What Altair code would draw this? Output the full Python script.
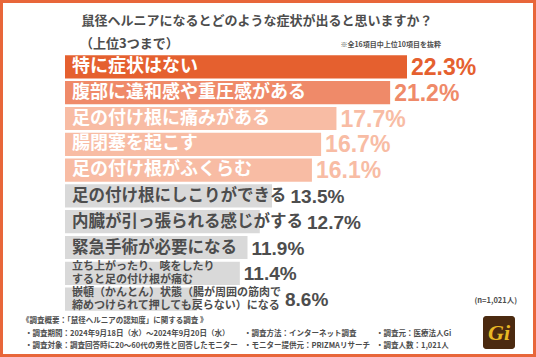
import altair as alt
import pandas as pd

# ---- data ----
categories = [
    "特に症状はない",
    "腹部に違和感や重圧感がある",
    "足の付け根に痛みがある",
    "腸閉塞を起こす",
    "足の付け根がふくらむ",
    "足の付け根にしこりができる",
    "内臓が引っ張られる感じがする",
    "緊急手術が必要になる",
    "立ち上がったり、咳をしたり\nすると足の付け根が痛む",
    "嵌頓（かんとん）状態（腸が周囲の筋肉で\n締めつけられて押しても戻らない）になる",
]
values = [22.3, 21.2, 17.7, 16.7, 16.1, 13.5, 12.7, 11.9, 11.4, 8.6]

title_text = "鼠径ヘルニアになるとどのような症状が出ると思いますか？"
subtitle_text = "（上位3つまで）"
note_text = "※全16項目中上位10項目を抜粋"
n_text = "(n=1,021人)"
footer_head = "《調査概要：「鼠径ヘルニアの認知度」に関する調査 》"
footer_col1 = ["・調査期間：2024年9月18日（水）～2024年9月20日（水）",
               "・調査対象：調査回答時に20～60代の男性と回答したモニター"]
footer_col2 = ["・調査方法：インターネット調査", "・モニター提供元：PRIZMAリサーチ"]
footer_col3 = ["・調査元：医療法人Gi", "・調査人数：1,021人"]

# ---- styles ----
JP = "Noto Sans CJK JP"
NUM = "'Liberation Sans Narrow', 'Liberation Sans', Arial, sans-serif"
GRAY_TXT = "#4D4D4D"
tier_fill = ["#E5602F", "#EF8A69", "#F8BCA4", "#D9D9D9"]
tier_value_color = ["#E5602F", "#EF8A69", "#F8BCA4", "#4D4D4D"]
tier_cat_color = ["#FFFFFF", "#FFFFFF", "#FFFFFF", "#4D4D4D"]
tier_cat_size = [18, 18, 18, 16.5]
tier_val_size = [23, 23, 23, 19]
two_line_size = 11
line_h = 13

X0, X1 = 65, 407           # pixel range of the value axis
px_per_unit = (X1 - X0) / max(values)
text_pad = 7


def tier_of(i):
    return 0 if i == 0 else 1 if i == 1 else 2 if i < 5 else 3


rows = []
for i, (c, v) in enumerate(zip(categories, values)):
    t = tier_of(i)
    lines = c.split("\n")
    fs = two_line_size if len(lines) > 1 else tier_cat_size[t]
    extent = (text_pad + max(len(l) for l in lines) * fs) / px_per_unit
    rows.append(dict(
        rank=i, cat=c, value=v, zero=0, nlines=len(lines),
        fill=tier_fill[t], vcol=tier_value_color[t], ccol=tier_cat_color[t],
        cfs=fs, vfs=tier_val_size[t],
        lx=max(v, extent) if t == 3 else v,
        vl=f"{v:.1f}%",
    ))
df = pd.DataFrame(rows)

xscale = alt.Scale(domain=[0, max(values)], range=[X0, X1])
yscale = alt.Scale(range=[54, 312], paddingInner=0.1, paddingOuter=0.05)
Y = alt.Y("rank:O", scale=yscale, axis=None)

base = alt.Chart(df)

bars = base.mark_bar().encode(
    x=alt.X("value:Q", scale=xscale, axis=None),
    x2=alt.X2("zero:Q"),
    y=Y,
    color=alt.Color("fill:N", scale=None),
)

cat_enc = dict(
    x=alt.X("zero:Q", scale=xscale, axis=None),
    y=Y,
    text="cat:N",
    color=alt.Color("ccol:N", scale=None),
    size=alt.Size("cfs:Q", scale=None),
)
cat_text1 = base.transform_filter("datum.nlines == 1").mark_text(
    align="left", baseline="middle", dx=text_pad, dy=0, font=JP, fontWeight="bold"
).encode(**cat_enc)
cat_text2 = base.transform_filter("datum.nlines == 2").mark_text(
    align="left", baseline="middle", dx=text_pad, dy=-line_h / 2, font=JP,
    fontWeight="bold", lineBreak="\n", lineHeight=line_h
).encode(**cat_enc)

val_text = base.mark_text(align="left", baseline="middle", dx=4, dy=1, font=NUM,
                          fontWeight="bold").encode(
    x=alt.X("lx:Q", scale=xscale, axis=None),
    y=Y,
    text="vl:N",
    color=alt.Color("vcol:N", scale=None),
    size=alt.Size("vfs:Q", scale=None),
)


def txt(text, x, y, size, align="left", color=GRAY_TXT, weight="bold", font=JP, **kw):
    return alt.Chart(pd.DataFrame({"t": [text]})).mark_text(
        align=align, baseline="middle", fontSize=size, color=color,
        fontWeight=weight, font=font, **kw
    ).encode(x=alt.value(x), y=alt.value(y), text="t:N")


one = pd.DataFrame({"k": [0]})
border = alt.Chart(one).mark_rect(fill="transparent", stroke="#E8663A", strokeWidth=3).encode(
    x=alt.value(1.5), x2=alt.value(534.5), y=alt.value(1.5), y2=alt.value(355.5))
logo_bg = alt.Chart(one).mark_rect(fill="#4B2A10", cornerRadius=3).encode(
    x=alt.value(483), x2=alt.value(515), y=alt.value(316), y2=alt.value(349))

layers = [
    border,
    txt(title_text, 257, 21, 13, align="center"),
    txt(subtitle_text, 80, 44, 13),
    txt(note_text, 441, 45, 7, align="right"),
    bars, cat_text1, cat_text2, val_text,
    txt(n_text, 517, 301, 7.5, align="right"),
    txt(footer_head, 22, 321, 7.5),
    txt(footer_col1[0], 25, 334, 7.5),
    txt(footer_col1[1], 25, 346, 7.5),
    txt(footer_col2[0], 244, 334, 7.5),
    txt(footer_col2[1], 244, 346, 7.5),
    txt(footer_col3[0], 376, 334, 7.5),
    txt(footer_col3[1], 376, 346, 7.5),
    logo_bg,
    txt("Gi", 499, 333, 22, align="center", color="#E9B824", weight="bold",
        font="'Liberation Serif', 'DejaVu Serif', serif", fontStyle="italic"),
]

chart = alt.layer(*layers).properties(
    width=536, height=357, autosize=alt.AutoSizeParams(type="none"), padding=0,
    background="white",
).configure_view(stroke=None)

chart.save("out.html", embed_options={"renderer": "svg", "actions": False})
